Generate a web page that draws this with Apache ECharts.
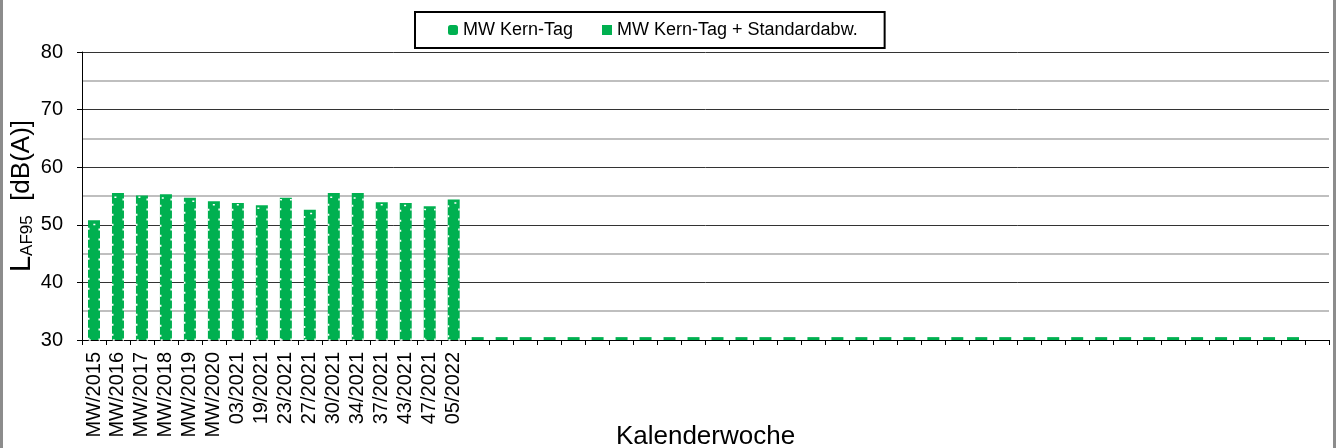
<!DOCTYPE html>
<html>
<head>
<meta charset="utf-8">
<script src="https://cdn.jsdelivr.net/npm/echarts@6/dist/echarts.min.js"></script>
<style>
html,body{margin:0;padding:0;background:#fff;}
#main{width:1336px;height:448px;}
</style>
</head>
<body>
<div id="main"></div>
<script>
var FONT = "'Liberation Sans', Arial, sans-serif";

// Kalenderwochen (Rest der Achse leer)
var weeks = ['MW/2015','MW/2016','MW/2017','MW/2018','MW/2019','MW/2020','03/2021','19/2021',
	'23/2021','27/2021','30/2021','34/2021','37/2021','43/2021','47/2021','05/2022',
	'','','','','','','','','','','','','','','','','','',
	'','','','','','','','','','','','','','','','','',''];

// MW Kern-Tag
var mwTag = [50.2,54.9,54.9,54.8,54.2,53.6,53.6,53.0,54.5,52.1,54.9,54.8,53.6,53.5,52.8,53.9,
	null,null,null,null,null,null,null,null,null,null,null,null,null,null,null,null,null,null,
	null,null,null,null,null,null,null,null,null,null,null,null,null,null,null,null,null,null];

// MW Kern-Tag + Standardabw.
var mwStd = [50.8,55.5,55.1,55.3,54.7,54.1,53.8,53.4,54.7,52.6,55.5,55.5,53.9,53.8,53.2,54.4,
	30.5,30.5,30.5,30.5,30.5,30.5,30.5,30.5,30.5,30.5,30.5,30.5,30.5,30.5,30.5,30.5,30.5,30.5,
	30.5,30.5,30.5,30.5,30.5,30.5,30.5,30.5,30.5,30.5,30.5,30.5,30.5,30.5,30.5,30.5,30.5,null];

var yTicks = { min: 30, max: 80, step: 10 };

var myChart = echarts.init(document.getElementById('main'));

var option = {
	animation: false,
	backgroundColor: '#fff',
	textStyle: { fontFamily: FONT },
	graphic: [
		{ type: 'rect', left: 0, top: 0, shape: { width: 3, height: 448 }, style: { fill: '#8c8c8c' } },
		{ type: 'rect', left: 1333, top: 0, shape: { width: 3, height: 448 }, style: { fill: '#8c8c8c' } }
	],
	legend: {
		data: [{ name: 'MW Kern-Tag', icon: 'roundRect' }, { name: 'MW Kern-Tag + Standardabw.', icon: 'rect' }],
		left: 415,
		top: 12,
		padding: [9, 27, 9, 33],
		itemWidth: 10,
		itemHeight: 10,
		itemGap: 29,
		borderColor: '#000',
		borderWidth: 2,
		itemStyle: { borderWidth: 0 },
		textStyle: { fontSize: 18, color: '#000', fontFamily: FONT }
	},
	grid: { left: 82, right: 7, top: 52, bottom: 108, containLabel: false, outerBoundsMode: 'none' },
	xAxis: {
		type: 'category',
		data: weeks,
		boundaryGap: true,
		axisLine: { lineStyle: { color: '#000', width: 1 } },
		axisTick: { show: true, length: 5, interval: 0, lineStyle: { color: '#000' } },
		axisLabel: { rotate: 90, interval: 0, fontSize: 20, color: '#000', margin: 12, fontFamily: FONT },
		name: 'Kalenderwoche',
		nameLocation: 'middle',
		nameGap: 84,
		nameMoveOverlap: false,
		nameTextStyle: { fontSize: 26, color: '#000', fontFamily: FONT }
	},
	yAxis: {
		type: 'value',
		min: yTicks.min,
		max: yTicks.max,
		interval: yTicks.step,
		axisLine: { show: true, lineStyle: { color: '#000', width: 1 } },
		axisTick: { show: true, length: 5, lineStyle: { color: '#000' } },
		axisLabel: { fontSize: 20, color: '#000', margin: 19, fontFamily: FONT },
		splitLine: { show: true, lineStyle: { color: '#333', width: 1 } },
		minorTick: { show: false, splitNumber: 2 },
		minorSplitLine: { show: true, lineStyle: { color: '#bfbfbf', width: 2 } },
		name: '{L|L}{sub|AF95}{n|  [dB(A)]}',
		nameLocation: 'middle',
		nameRotate: 90,
		nameGap: 46,
		nameMoveOverlap: false,
		nameTextStyle: {
			color: '#000',
			fontFamily: FONT,
			rich: {
				L: { fontSize: 29, color: '#000', fontFamily: FONT },
				n: { fontSize: 26, color: '#000', fontFamily: FONT },
				sub: { fontSize: 17, lineHeight: 17, verticalAlign: 'bottom', color: '#000', fontFamily: FONT }
			}
		}
	},
	series: [{
		name: 'MW Kern-Tag + Standardabw.',
		type: 'bar',
		data: mwStd,
		barWidth: 12,
		barGap: '-100%',
		z: 2,
		itemStyle: { color: '#00B050' }
	}, {
		name: 'MW Kern-Tag',
		type: 'bar',
		data: mwTag,
		barWidth: 12,
		barGap: '-100%',
		z: 3,
		itemStyle: { color: '#00B050', borderColor: '#fff', borderWidth: 1.5, borderType: [2, 8] }
	}]
};

myChart.setOption(option);
</script>
</body>
</html>
